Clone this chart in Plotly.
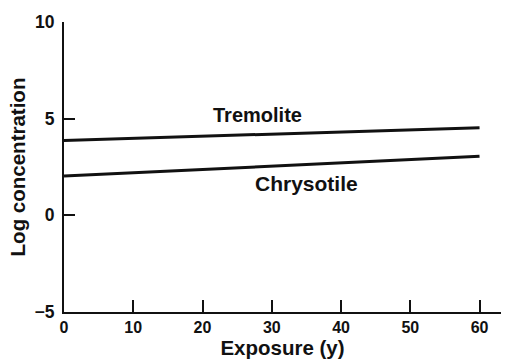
import plotly.graph_objects as go

# Data
exposure = [0, 60]
tremolite = [3.87, 4.53]
chrysotile = [2.03, 3.05]
x_ticks = [0, 10, 20, 30, 40, 50, 60]
y_ticks = [-5, 0, 5, 10]
y_tick_text = ["\u22125", "0", "5", "10"]
labels = ["Tremolite", "Chrysotile"]
label_x = [28, 35]
label_y = [5.2, 1.65]

FONT = "Liberation Sans, Arial, Helvetica, sans-serif"

fig = go.Figure()
fig.add_trace(go.Scatter(x=exposure, y=tremolite, mode="lines",
                         line=dict(color="#111111", width=3), showlegend=False))
fig.add_trace(go.Scatter(x=exposure, y=chrysotile, mode="lines",
                         line=dict(color="#111111", width=3), showlegend=False))

for t, xx, yy, sz in zip(labels, label_x, label_y, [20, 21]):
    fig.add_annotation(x=xx, y=yy, text="<b>%s</b>" % t, showarrow=False,
                       font=dict(family=FONT, size=sz, color="#111111"),
                       xanchor="center", yanchor="middle")

fig.update_layout(
    width=512, height=363,
    margin=dict(l=64, r=11, t=22, b=48),
    paper_bgcolor="white", plot_bgcolor="white",
    font=dict(family=FONT, color="#111111"),
)
fig.update_xaxes(
    range=[0, 63.1], tickvals=x_ticks, ticktext=["<b>%d</b>" % v for v in x_ticks],
    ticks="inside", ticklen=12, tickwidth=2, tickcolor="#111111",
    showline=True, linewidth=2, linecolor="#111111",
    showgrid=False, zeroline=False,
    tickfont=dict(family=FONT, size=16, color="#111111"),
    title=dict(text="<b>Exposure (y)</b>", font=dict(family=FONT, size=20.5, color="#111111"), standoff=1),
)
fig.update_yaxes(
    range=[-5, 10], tickvals=y_ticks, ticktext=["<b>%s</b>" % s for s in y_tick_text],
    ticks="inside", ticklen=11, tickwidth=2, tickcolor="#111111",
    showline=True, linewidth=2, linecolor="#111111",
    showgrid=False, zeroline=False,
    tickfont=dict(family=FONT, size=17.5, color="#111111"),
    ticklabelstandoff=4,
    title=dict(text="<b>Log concentration</b>", font=dict(family=FONT, size=20.5, color="#111111"), standoff=3),
)

fig.write_html("out.html")
